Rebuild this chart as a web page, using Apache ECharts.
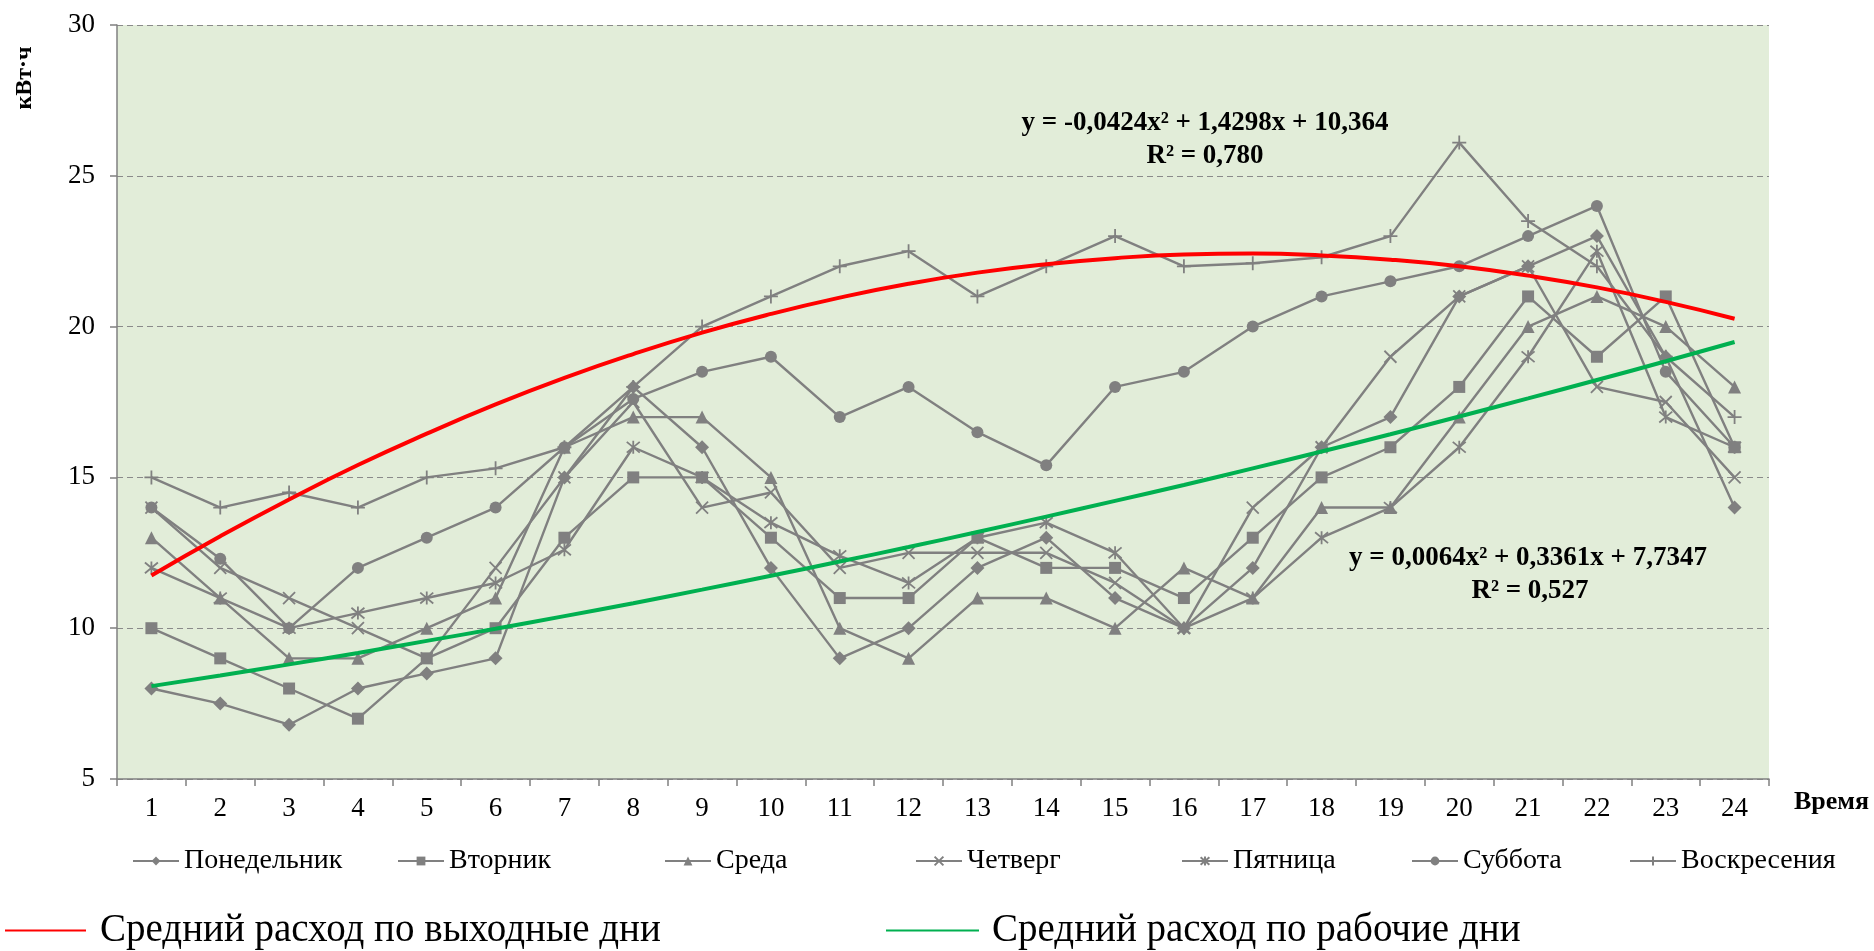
<!DOCTYPE html>
<html>
<head>
<meta charset="utf-8">
<script src="https://cdn.jsdelivr.net/npm/echarts@6/dist/echarts.min.js"></script>
<style>
html,body{margin:0;padding:0;background:#fff;}
#chart{width:1874px;height:951px;}
</style>
</head>
<body>
<div id="chart"></div>
<script>
const hours = ['1','2','3','4','5','6','7','8','9','10','11','12','13','14','15','16','17','18','19','20','21','22','23','24'];
const monday    = [8, 7.5, 6.8, 8, 8.5, 9, 15, 18, 16, 12, 9, 10, 12, 13, 11, 10, 12, 16, 17, 21, 22, 23, 19, 14];
const tuesday   = [10, 9, 8, 7, 9, 10, 13, 15, 15, 13, 11, 11, 13, 12, 12, 11, 13, 15, 16, 18, 21, 19, 21, 16];
const wednesday = [13, 11, 9, 9, 10, 11, 16, 17, 17, 15, 10, 9, 11, 11, 10, 12, 11, 14, 14, 17, 20, 21, 20, 18];
const thursday  = [14, 12, 11, 10, 9, 12, 15, 17.5, 14, 14.5, 12, 12.5, 12.5, 12.5, 11.5, 10, 14, 16, 19, 21, 22, 18, 17.5, 15];
const friday    = [12, 11, 10, 10.5, 11, 11.5, 12.6, 16, 15, 13.5, 12.4, 11.5, 13, 13.5, 12.5, 10, 11, 13, 14, 16, 19, 22.5, 17, 16];
const saturday  = [14, 12.3, 10, 12, 13, 14, 16, 17.6, 18.5, 19, 17, 18, 16.5, 15.4, 18, 18.5, 20, 21, 21.5, 22, 23, 24, 18.5, 16];
const sunday    = [15, 14, 14.5, 14, 15, 15.3, 16, 18, 20, 21, 22, 22.5, 21, 22, 23, 22, 22.1, 22.3, 23, 26.1, 23.5, 22, 19, 17];
const weekendTrend = [11.75, 13.05, 14.27, 15.41, 16.45, 17.42, 18.30, 19.09, 19.80, 20.42, 20.96, 21.42, 21.79, 22.07, 22.27, 22.39, 22.42, 22.36, 22.22, 22.00, 21.69, 21.30, 20.82, 20.26];
const workdayTrend = [8.08, 8.43, 8.80, 9.18, 9.58, 9.98, 10.40, 10.83, 11.28, 11.74, 12.21, 12.69, 13.19, 13.70, 14.22, 14.75, 15.30, 15.86, 16.43, 17.02, 17.62, 18.23, 18.85, 19.49];
const dayNames = ['Понедельник','Вторник','Среда','Четверг','Пятница','Суббота','Воскресения'];
const trendNames = ['Средний расход по выходные дни','Средний расход по рабочие дни'];
const yTicks = [5, 10, 15, 20, 25, 30];

const FONT = "'Liberation Serif','Times New Roman',serif";
const GRAY = '#808080';
const sym = {
  cross: 'path://M0,0L10,10M10,0L0,10',
  star: 'path://M0,0L10,10M10,0L0,10M5,-1L5,11',
  plus: 'path://M5,0L5,10M0,5L10,5'
};
const dayData = [monday, tuesday, wednesday, thursday, friday, saturday, sunday];
const daySymbols = ['diamond','rect','triangle',sym.cross,sym.star,'circle',sym.plus];
const daySizes = [14, 12, 13, 12, 13, 12, 14];

const series = dayData.map((d, i) => {
  const pathSym = i === 3 || i === 4 || i === 6;
  return {
    name: dayNames[i],
    type: 'line',
    data: d,
    symbol: daySymbols[i],
    symbolSize: daySizes[i],
    showAllSymbol: true,
    lineStyle: {color: GRAY, width: 2.4},
    itemStyle: pathSym ? {color: 'rgba(0,0,0,0)', borderColor: GRAY, borderWidth: 1.8}
                       : {color: GRAY, borderColor: GRAY, borderWidth: 0},
    z: 2,
    animation: false
  };
});
series.push({
  name: trendNames[0], type: 'line', data: weekendTrend, smooth: true, symbol: 'none',
  lineStyle: {color: '#ff0000', width: 4}, itemStyle: {color: '#ff0000'}, z: 4, animation: false
});
series.push({
  name: trendNames[1], type: 'line', data: workdayTrend, smooth: true, symbol: 'none',
  lineStyle: {color: '#00b050', width: 4}, itemStyle: {color: '#00b050'}, z: 4, animation: false
});

const legendTextLefts = [180, 445, 712, 963, 1229, 1459, 1677];
const legends = dayNames.map((n, i) => ({
  data: [n],
  left: legendTextLefts[i] - 53,
  top: 842,
  itemWidth: 46,
  itemHeight: 11,
  selectedMode: false,
  lineStyle: {width: 2},
  textStyle: {fontFamily: FONT, fontSize: 28, color: '#000'}
}));
legends.push({
  data: [{name: trendNames[0], icon: 'rect'}], left: 0, top: 906, itemWidth: 81, itemHeight: 2, selectedMode: false,
  itemStyle: {color: '#ff0000'},
  textStyle: {fontFamily: FONT, fontSize: 39, color: '#000', padding: [0,0,0,9]}
});
legends.push({
  data: [{name: trendNames[1], icon: 'rect'}], left: 881, top: 906, itemWidth: 93, itemHeight: 2, selectedMode: false,
  itemStyle: {color: '#00b050'},
  textStyle: {fontFamily: FONT, fontSize: 39, color: '#000', padding: [0,0,0,8]}
});

const chart = echarts.init(document.getElementById('chart'));
chart.setOption({
  backgroundColor: '#ffffff',
  animation: false,
  grid: {left: 117, top: 25, right: 105, bottom: 172, show: true, backgroundColor: '#e2edd9', borderWidth: 0},
  legend: legends,
  xAxis: {
    type: 'category',
    data: hours,
    boundaryGap: true,
    axisLine: {lineStyle: {color: GRAY, width: 1.5}},
    axisTick: {show: true, length: 7, lineStyle: {color: GRAY, width: 1.5}},
    axisLabel: {fontFamily: FONT, fontSize: 27, color: '#000', margin: 16},
    name: 'Время',
    nameLocation: 'end',
    nameGap: 25,
    nameTextStyle: {fontFamily: FONT, fontSize: 26, fontWeight: 'bold', color: '#000', verticalAlign: 'top', padding: [10, 0, 0, 0]}
  },
  yAxis: {
    type: 'value',
    min: yTicks[0],
    max: yTicks[yTicks.length - 1],
    interval: 5,
    axisLine: {show: true, lineStyle: {color: GRAY, width: 1.5}},
    axisTick: {show: true, length: 7, lineStyle: {color: GRAY, width: 1.5}},
    axisLabel: {fontFamily: FONT, fontSize: 27, color: '#000', margin: 22},
    splitLine: {show: true, lineStyle: {color: '#8a8a8a', type: [6, 4], width: 1.2}}
  },
  graphic: [
    {type: 'text', x: 25, y: 78, rotation: Math.PI / 2, style: {text: 'кВт·ч', font: "bold 24px 'Liberation Serif', serif", fill: '#000', align: 'center', verticalAlign: 'middle'}},
    {type: 'text', x: 1205, y: 123, style: {text: 'y = -0,0424x² + 1,4298x + 10,364', font: "bold 27px 'Liberation Serif', serif", fill: '#000', align: 'center', verticalAlign: 'middle'}},
    {type: 'text', x: 1205, y: 156, style: {text: 'R² = 0,780', font: "bold 27px 'Liberation Serif', serif", fill: '#000', align: 'center', verticalAlign: 'middle'}},
    {type: 'text', x: 1528, y: 558, style: {text: 'y = 0,0064x² + 0,3361x + 7,7347', font: "bold 27px 'Liberation Serif', serif", fill: '#000', align: 'center', verticalAlign: 'middle'}},
    {type: 'text', x: 1530, y: 591, style: {text: 'R² = 0,527', font: "bold 27px 'Liberation Serif', serif", fill: '#000', align: 'center', verticalAlign: 'middle'}}
  ],
  series: series
});
</script>
</body>
</html>
